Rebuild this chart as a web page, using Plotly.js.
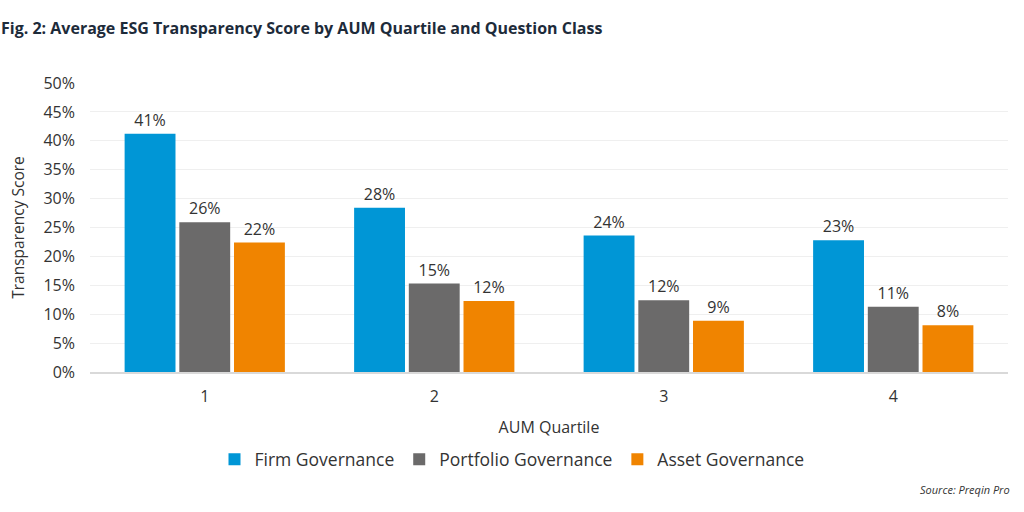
<!DOCTYPE html>
<html>
<head>
<meta charset="utf-8">
<script src="https://cdn.plot.ly/plotly-3.0.1.min.js"></script>
<style>html,body{margin:0;padding:0;background:#fff;}#chart{width:1024px;height:512px;}</style>
</head>
<body>
<div id="chart"></div>
<script>
const categories = ['1', '2', '3', '4'];
const firmGovernance = [41.2, 28.4, 23.6, 22.8];
const portfolioGovernance = [25.9, 15.3, 12.4, 11.3];
const assetGovernance = [22.4, 12.3, 8.85, 8.1];
const seriesNames = ['Firm Governance', 'Portfolio Governance', 'Asset Governance'];
const seriesColors = ['#0096d6', '#6b6a6a', '#f08400'];
const yTickValues = [0, 5, 10, 15, 20, 25, 30, 35, 40, 45, 50];
const yTickLabels = ['0%', '5%', '10%', '15%', '20%', '25%', '30%', '35%', '40%', '45%', '50%'];

const seriesValues = [firmGovernance, portfolioGovernance, assetGovernance];
const font = 'Open Sans, Noto Sans, sans-serif';
const traces = seriesValues.map((vals, i) => ({
  type: 'bar',
  name: seriesNames[i],
  x: categories,
  y: vals,
  marker: {color: seriesColors[i]},
  texttemplate: '%{y:.0f}%',
  textposition: 'outside',
  cliponaxis: false,
  textfont: {family: font, size: 16, color: '#333333'},
  hoverinfo: 'skip'
}));

const layout = {
  width: 1024, height: 512,
  margin: {l: 90, r: 16, t: 83, b: 140},
  paper_bgcolor: '#ffffff', plot_bgcolor: '#ffffff',
  font: {family: font, color: '#333333'},
  barmode: 'group',
  bargap: 0.285,
  bargroupgap: 0.07,
  title: {
    text: '<b>Fig. 2: Average ESG Transparency Score by AUM Quartile and Question Class</b>',
    font: {family: font, size: 16, color: '#1d2b3a'},
    x: 0.001, xref: 'container', xanchor: 'left', y: 0.945, yref: 'container', yanchor: 'middle'
  },
  xaxis: {
    type: 'category',
    tickfont: {size: 16, color: '#333333'},
    showgrid: false,
    showline: true, linecolor: '#d9d9d9', linewidth: 2,
    ticks: '', ticklen: 0,
    ticklabelstandoff: 9,
    title: {text: 'AUM Quartile', font: {size: 16, color: '#333333'}, standoff: 16}
  },
  yaxis: {
    range: [0, 50],
    tickmode: 'array',
    tickvals: yTickValues,
    ticktext: yTickLabels,
    tickfont: {size: 16, color: '#333333'},
    showgrid: true, gridcolor: '#efefef', gridwidth: 1,
    zeroline: false,
    ticks: '',
    ticklabelstandoff: 14,
    title: {text: 'Transparency Score', font: {size: 15.5, color: '#333333'}, standoff: 15}
  },
  legend: {
    orientation: 'h',
    xref: 'container', yref: 'container',
    x: 0.5, xanchor: 'center', y: 0.103, yanchor: 'middle',
    font: {size: 17.5, color: '#333333'},
    traceorder: 'normal'
  },
  annotations: [{
    text: '<i>Source: Preqin Pro</i>',
    xref: 'paper', yref: 'paper', x: 1.004, y: -0.408,
    xanchor: 'right', yanchor: 'middle', showarrow: false,
    font: {family: font, size: 11, color: '#333333'}
  }]
};

Plotly.newPlot('chart', traces, layout, {displayModeBar: false, staticPlot: true});
</script>
</body>
</html>
